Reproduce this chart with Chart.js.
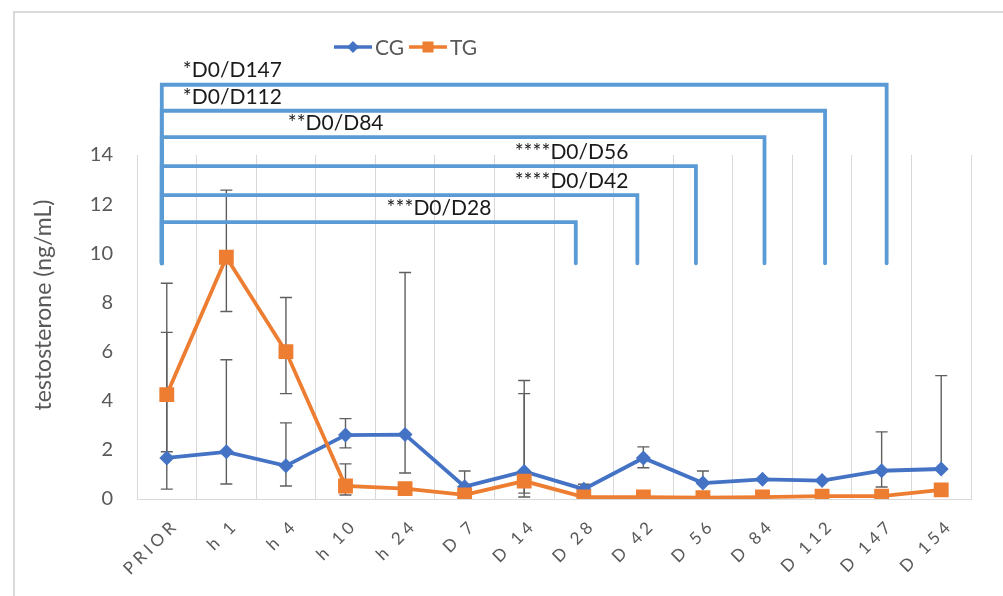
<!DOCTYPE html>
<html>
<head>
<meta charset="utf-8">
<script src="https://cdn.jsdelivr.net/npm/chart.js@4/dist/chart.umd.min.js"></script>
<style>
  html, body { margin: 0; padding: 0; background: #ffffff; }
  #wrap { width: 1003px; height: 596px; }
</style>
</head>
<body>
<div id="wrap"><canvas id="chart" width="1003" height="596"></canvas></div>
<script>
// Sampling times
const categories = ['PRIOR', 'h 1', 'h 4', 'h 10', 'h 24', 'D 7', 'D 14', 'D 28', 'D 42', 'D 56', 'D 84', 'D 112', 'D 147', 'D 154'];

// Mean testosterone (ng/mL) per group
const cgValues = [1.67, 1.92, 1.35, 2.60, 2.62, 0.50, 1.12, 0.40, 1.67, 0.65, 0.80, 0.75, 1.15, 1.22];
const tgValues = [4.25, 9.84, 6.00, 0.53, 0.42, 0.17, 0.73, 0.08, 0.08, 0.05, 0.08, 0.12, 0.12, 0.37];

// Error bar ends (null = no whisker on that side)
const cgLow  = [0.40, 0.61, 0.53, 2.08, 1.06, null, 0.08, null, 1.27, null, null, null, 0.49, null];
const cgHigh = [8.78, 5.67, 3.10, 3.27, 9.22, 1.14, 4.82, 0.60, 2.12, 1.14, null, null, 2.73, 5.02];
const tgLow  = [1.92, 7.63, 4.29, 0.16, null, null, 0.24, null, null, null, null, null, null, null];
const tgHigh = [6.78, 12.57, 8.20, 1.43, null, null, 4.29, null, null, null, null, null, null, null];

// Y axis ticks
const yTicks = [0, 2, 4, 6, 8, 10, 12, 14];

// Significance comparisons against D0
const comparisons = [
  { to: 'D 28',  label: '***D0/D28' },
  { to: 'D 42',  label: '****D0/D42' },
  { to: 'D 56',  label: '****D0/D56' },
  { to: 'D 84',  label: '**D0/D84' },
  { to: 'D 112', label: '*D0/D112' },
  { to: 'D 147', label: '*D0/D147' }
];

const CG_COLOR = '#4472C4';
const TG_COLOR = '#ED7D31';
const BRACKET_COLOR = '#5B9BD5';
const TEXT_GREY = '#595959';
const FONT = 'Lato, "Open Sans", sans-serif';

// Bracket placement: bar level in axis units, label start as a category position,
// and a small horizontal nudge for the closing leg
const bracketLayout = [
  { level: 11.27, labelAt: 3.69, nudge: -8 },
  { level: 12.37, labelAt: 5.84, nudge: -6 },
  { level: 13.55, labelAt: 5.84, nudge: -7 },
  { level: 14.73, labelAt: 2.03, nudge: 2 },
  { level: 15.80, labelAt: 0.27, nudge: 3 },
  { level: 16.86, labelAt: 0.27, nudge: 5 }
];
const BRACKET_FOOT = 9.59;

const decor = {
  id: 'decor',
  beforeDraw(chart) {
    const ctx = chart.ctx;
    // outer frame
    ctx.save();
    ctx.strokeStyle = '#d9d9d9';
    ctx.lineWidth = 2;
    ctx.beginPath();
    ctx.moveTo(14, 596);
    ctx.lineTo(14, 12);
    ctx.lineTo(1003, 12);
    ctx.stroke();
    ctx.restore();

    // spaced-out category labels
    const xs = chart.scales.x;
    if (!xs._spaced) {
      const orig = xs.drawLabels;
      xs.drawLabels = function (area) {
        this.ctx.save();
        this.ctx.letterSpacing = '4px';
        orig.call(this, area);
        this.ctx.restore();
      };
      xs._spaced = true;
    }
  },
  beforeDatasetsDraw(chart) {
    const ctx = chart.ctx;
    const xs = chart.scales.x, ys = chart.scales.y;
    const cap = 6;
    ctx.save();
    ctx.strokeStyle = '#5f5f5f';
    ctx.lineWidth = 1.4;
    const drawBars = (means, lows, highs) => {
      means.forEach((m, i) => {
        const x = xs.getPixelForValue(i);
        const ym = ys.getPixelForValue(m);
        [lows[i], highs[i]].forEach(v => {
          if (v === null) return;
          const yv = ys.getPixelForValue(v);
          ctx.beginPath();
          ctx.moveTo(x, ym);
          ctx.lineTo(x, yv);
          ctx.moveTo(x - cap, yv);
          ctx.lineTo(x + cap, yv);
          ctx.stroke();
        });
      });
    };
    drawBars(cgValues, cgLow, cgHigh);
    drawBars(tgValues, tgLow, tgHigh);
    ctx.restore();
  },
  afterDraw(chart) {
    const ctx = chart.ctx;
    const xs = chart.scales.x, ys = chart.scales.y;
    const x0 = xs.getPixelForValue(0) - 5;
    const foot = ys.getPixelForValue(BRACKET_FOOT);

    // comparison brackets
    ctx.save();
    ctx.strokeStyle = BRACKET_COLOR;
    ctx.lineWidth = 3.8;
    ctx.lineCap = 'round';
    ctx.lineJoin = 'miter';
    comparisons.forEach((c, k) => {
      const lay = bracketLayout[k];
      const x1 = xs.getPixelForValue(categories.indexOf(c.to)) + lay.nudge;
      const yb = ys.getPixelForValue(lay.level);
      ctx.beginPath();
      ctx.moveTo(x0, foot);
      ctx.lineTo(x0, yb);
      ctx.lineTo(x1, yb);
      ctx.lineTo(x1, foot);
      ctx.stroke();
    });
    ctx.fillStyle = '#1a1a1a';
    ctx.font = '21px ' + FONT;
    ctx.textAlign = 'left';
    ctx.textBaseline = 'middle';
    comparisons.forEach((c, k) => {
      const lay = bracketLayout[k];
      const yb = ys.getPixelForValue(lay.level);
      ctx.fillText(c.label, xs.getPixelForValue(lay.labelAt), yb - 14);
    });
    ctx.restore();

    // legend
    ctx.save();
    const ly = 47;
    const items = [
      { name: 'CG', color: CG_COLOR, x: 334, shape: 'diamond' },
      { name: 'TG', color: TG_COLOR, x: 409, shape: 'square' }
    ];
    ctx.font = '21px ' + FONT;
    ctx.textBaseline = 'middle';
    ctx.textAlign = 'left';
    items.forEach(it => {
      ctx.strokeStyle = it.color;
      ctx.lineWidth = 3.5;
      ctx.beginPath();
      ctx.moveTo(it.x, ly);
      ctx.lineTo(it.x + 38, ly);
      ctx.stroke();
      ctx.fillStyle = it.color;
      const cx = it.x + 19;
      ctx.beginPath();
      if (it.shape === 'diamond') {
        ctx.moveTo(cx, ly - 6); ctx.lineTo(cx + 6, ly);
        ctx.lineTo(cx, ly + 6); ctx.lineTo(cx - 6, ly);
        ctx.closePath();
      } else {
        ctx.rect(cx - 5.5, ly - 5.5, 11, 11);
      }
      ctx.fill();
      ctx.fillStyle = TEXT_GREY;
      ctx.fillText(it.name, it.x + 41, ly + 1);
    });
    ctx.restore();

    // y-axis title
    ctx.save();
    ctx.translate(44, 305);
    ctx.rotate(-Math.PI / 2);
    ctx.fillStyle = TEXT_GREY;
    ctx.font = '23px ' + FONT;
    ctx.textAlign = 'center';
    ctx.textBaseline = 'middle';
    ctx.fillText('testosterone (ng/mL)', 0, 0);
    ctx.restore();
  }
};

new Chart(document.getElementById('chart'), {
  type: 'line',
  data: {
    labels: categories,
    datasets: [
      {
        label: 'CG',
        data: cgValues,
        borderColor: CG_COLOR,
        backgroundColor: CG_COLOR,
        borderWidth: 3.8,
        pointStyle: 'rectRot',
        pointRadius: 7.5,
        pointBorderWidth: 0,
        tension: 0,
        order: 1
      },
      {
        label: 'TG',
        data: tgValues,
        borderColor: TG_COLOR,
        backgroundColor: TG_COLOR,
        borderWidth: 3.8,
        pointStyle: 'rect',
        pointRadius: 10.5,
        pointBorderWidth: 0,
        tension: 0,
        order: 0
      }
    ]
  },
  options: {
    responsive: false,
    animation: false,
    layout: { padding: { top: 155, right: 32, left: 0, bottom: 0 } },
    plugins: {
      legend: { display: false },
      tooltip: { enabled: false },
      title: { display: false }
    },
    scales: {
      x: {
        offset: true,
        grid: { display: true, offset: true, color: '#d9d9d9', lineWidth: 1, drawTicks: false },
        border: { display: true, color: '#d9d9d9', width: 1 },
        ticks: {
          color: TEXT_GREY,
          font: { family: FONT, size: 17 },
          minRotation: 45,
          maxRotation: 45,
          autoSkip: false,
          padding: 16,
          labelOffset: 9
        },
        afterFit(scale) { scale.height = 97; }
      },
      y: {
        min: yTicks[0],
        max: yTicks[yTicks.length - 1],
        afterBuildTicks(scale) { scale.ticks = yTicks.map(v => ({ value: v })); },
        grid: { display: false, drawTicks: false },
        border: { display: false },
        ticks: {
          color: TEXT_GREY,
          font: { family: FONT, size: 20 },
          padding: 24
        },
        afterFit(scale) { scale.width = 137; }
      }
    }
  },
  plugins: [decor]
});
</script>
</body>
</html>
